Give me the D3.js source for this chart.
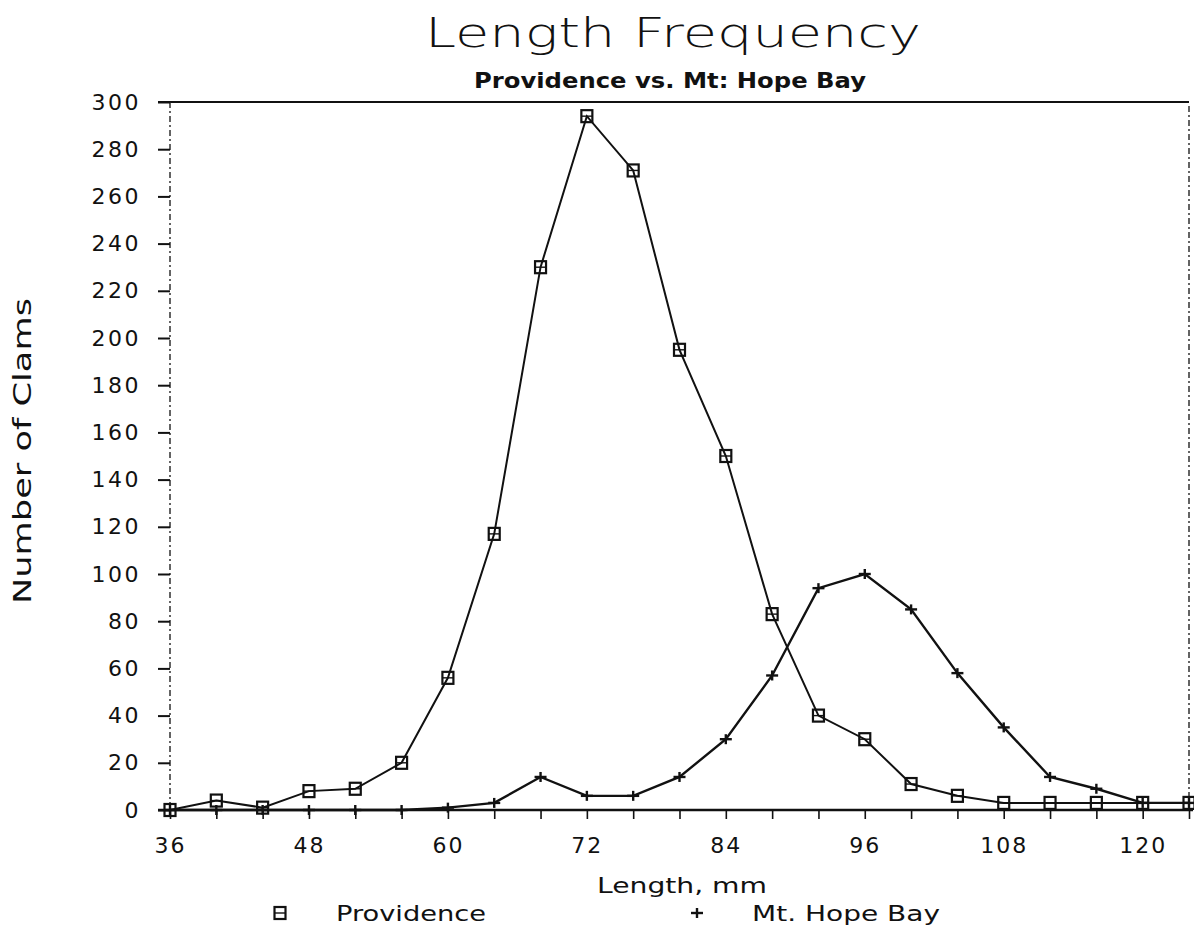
<!DOCTYPE html>
<html>
<head>
<meta charset="utf-8">
<script src="https://cdn.jsdelivr.net/npm/d3@7"></script>
<style>
  html, body { margin: 0; padding: 0; background: #fff; }
  svg { display: block; }
  text { font-family: "DejaVu Sans", "Liberation Sans", sans-serif; fill: #111; }
</style>
</head>
<body>
<svg id="chart" width="1194" height="931"></svg>
<script>
// ---- data ----
const lengths = [36, 40, 44, 48, 52, 56, 60, 64, 68, 72, 76, 80, 84, 88, 92, 96, 100, 104, 108, 112, 116, 120, 124];
const providence = [0, 4, 1, 8, 9, 20, 56, 117, 230, 294, 271, 195, 150, 83, 40, 30, 11, 6, 3, 3, 3, 3, 3];
const mtHopeBay = [0, 0, 0, 0, 0, 0, 1, 3, 14, 6, 6, 14, 30, 57, 94, 100, 85, 58, 35, 14, 9, 3, 3];
const xTickLabels = [36, 48, 60, 72, 84, 96, 108, 120];
const yTickLabels = [0, 20, 40, 60, 80, 100, 120, 140, 160, 180, 200, 220, 240, 260, 280, 300];
const titleText = "Length Frequency";
const subtitleText = "Providence vs. Mt: Hope Bay";
const xTitle = "Length, mm";
const yTitle = "Number of Clams";
const seriesNames = ["Providence", "Mt. Hope Bay"];

// ---- layout ----
const pLeft = 170, pRight = 1189, pTop = 102, pBottom = 810;
const svg = d3.select("#chart");
const x = d3.scaleLinear().domain([36, 124]).range([pLeft, pRight]);
const y = d3.scaleLinear().domain([0, 300]).range([pBottom, pTop]);

// frame: top solid, sides dotted
svg.append("line").attr("x1", pLeft - 12).attr("x2", pRight).attr("y1", pTop).attr("y2", pTop)
  .attr("stroke", "#111").attr("stroke-width", 2.2);
svg.append("line").attr("x1", pLeft).attr("x2", pLeft).attr("y1", pTop).attr("y2", pBottom)
  .attr("stroke", "#222").attr("stroke-width", 1.4).attr("stroke-dasharray", "6,3,2,3");
svg.append("line").attr("x1", pRight).attr("x2", pRight).attr("y1", pTop + 4).attr("y2", pBottom)
  .attr("stroke", "#222").attr("stroke-width", 1.4).attr("stroke-dasharray", "6,3,2,3");

// y axis
const yAxis = d3.axisLeft(y).tickValues(yTickLabels).tickSize(12).tickPadding(17)
  .tickFormat(d3.format("d"));
const gy = svg.append("g").attr("transform", `translate(${pLeft},0)`).call(yAxis);
gy.select(".domain").remove();
gy.selectAll(".tick line").attr("stroke", "#111").attr("stroke-width", 2);
gy.selectAll(".tick text").attr("font-size", 22).attr("letter-spacing", 2.5)
  .style("font-family", "'DejaVu Sans', sans-serif").attr("fill", "#111");

// x axis
const xAxis = d3.axisBottom(x).tickValues(lengths).tickSize(9).tickPadding(18)
  .tickFormat(d => xTickLabels.includes(d) ? d : "");
const gx = svg.append("g").attr("transform", `translate(0,${pBottom})`).call(xAxis);
gx.select(".domain").remove();
gx.selectAll(".tick line").attr("stroke", "#111").attr("stroke-width", 1.6);
gx.selectAll(".tick text").attr("font-size", 22).attr("letter-spacing", 2)
  .style("font-family", "'DejaVu Sans', sans-serif").attr("fill", "#111");
svg.append("line").attr("x1", pLeft - 12).attr("x2", pRight + 4).attr("y1", pBottom).attr("y2", pBottom)
  .attr("stroke", "#111").attr("stroke-width", 2.6);

// lines
const line = d3.line().x((d, i) => x(lengths[i])).y(d => y(d));
svg.append("path").datum(mtHopeBay).attr("d", line).attr("fill", "none")
  .attr("stroke", "#111").attr("stroke-width", 2.4);
svg.append("path").datum(providence).attr("d", line).attr("fill", "none")
  .attr("stroke", "#111").attr("stroke-width", 2);

// markers
function squareMarker(g, cx, cy) {
  g.append("rect").attr("x", cx - 5.5).attr("y", cy - 6).attr("width", 11).attr("height", 12)
    .attr("fill", "none").attr("stroke", "#111").attr("stroke-width", 2.2);
  g.append("line").attr("x1", cx - 5.5).attr("x2", cx + 5.5).attr("y1", cy).attr("y2", cy)
    .attr("stroke", "#111").attr("stroke-width", 1.4);
}
function plusMarker(g, cx, cy) {
  g.append("line").attr("x1", cx - 6).attr("x2", cx + 6).attr("y1", cy).attr("y2", cy)
    .attr("stroke", "#111").attr("stroke-width", 2.4);
  g.append("line").attr("x1", cx).attr("x2", cx).attr("y1", cy - 5).attr("y2", cy + 5)
    .attr("stroke", "#111").attr("stroke-width", 2.4);
}
const mg = svg.append("g");
mtHopeBay.forEach((v, i) => plusMarker(mg, x(lengths[i]), y(v)));
providence.forEach((v, i) => squareMarker(mg, x(lengths[i]), y(v)));

// titles
svg.append("text").attr("x", 673).attr("y", 47).attr("text-anchor", "middle")
  .attr("font-size", 41).attr("font-weight", 200).attr("textLength", 496).attr("lengthAdjust", "spacingAndGlyphs")
  .text(titleText);
svg.append("text").attr("x", 670).attr("y", 88).attr("text-anchor", "middle")
  .attr("font-size", 21).attr("font-weight", "bold").attr("textLength", 392).attr("lengthAdjust", "spacingAndGlyphs")
  .text(subtitleText);
svg.append("text").attr("transform", "translate(31,451) rotate(-90)").attr("text-anchor", "middle")
  .attr("font-size", 24).attr("textLength", 306).attr("lengthAdjust", "spacingAndGlyphs")
  .text(yTitle);
svg.append("text").attr("x", 682).attr("y", 893).attr("text-anchor", "middle")
  .attr("font-size", 21).attr("textLength", 170).attr("lengthAdjust", "spacingAndGlyphs")
  .text(xTitle);

// legend
squareMarker(svg, 280, 913);
svg.append("text").attr("x", 336).attr("y", 921).attr("font-size", 21)
  .attr("textLength", 150).attr("lengthAdjust", "spacingAndGlyphs").text(seriesNames[0]);
plusMarker(svg, 697, 913);
svg.append("text").attr("x", 752).attr("y", 921).attr("font-size", 21)
  .attr("textLength", 188).attr("lengthAdjust", "spacingAndGlyphs").text(seriesNames[1]);
</script>
</body>
</html>
